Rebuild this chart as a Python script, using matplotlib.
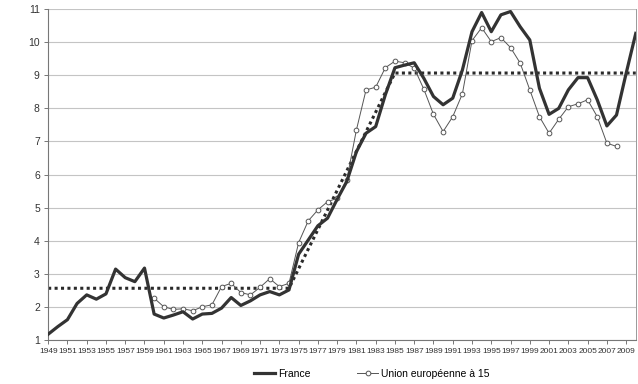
import numpy as np
from matplotlib import pyplot as plt

# years
years_fr = np.arange(1949, 2011)
years_eu = np.arange(1960, 2009)

france = [1.17, 1.4, 1.61, 2.1, 2.36, 2.23, 2.39, 3.14, 2.88, 2.76,
          3.17, 1.78, 1.66, 1.75, 1.85, 1.63, 1.78, 1.8, 1.96, 2.28,
          2.04, 2.18, 2.36, 2.46, 2.36, 2.51, 3.59, 4.02, 4.45, 4.68,
          5.25, 5.79, 6.69, 7.25, 7.45, 8.41, 9.23, 9.31, 9.38, 8.91,
          8.36, 8.11, 8.31, 9.16, 10.32, 10.9, 10.32, 10.83, 10.93, 10.47,
          10.07, 8.61, 7.82, 8.0, 8.56, 8.93, 8.93, 8.26, 7.47, 7.8,
          9.06, 10.27]

ue15 = [2.26, 2.0, 1.92, 1.94, 1.88, 2.0, 2.06, 2.61, 2.71, 2.43,
        2.36, 2.59, 2.85, 2.61, 2.71, 3.94, 4.6, 4.93, 5.18, 5.28,
        5.84, 7.35, 8.56, 8.64, 9.23, 9.43, 9.38, 9.22, 8.58, 7.82,
        7.3, 7.75, 8.44, 10.05, 10.44, 10.02, 10.14, 9.84, 9.37, 8.56,
        7.75, 7.25, 7.67, 8.05, 8.14, 8.26, 7.75, 6.95, 6.85]

# trend (dotted) : plateau - rise - plateau
trend_x = [1949, 1974, 1985, 2010]
trend_y = [2.56, 2.56, 9.07, 9.07]

fig = plt.figure(figsize=(6.38, 3.84), dpi=100)
ax = fig.add_axes([0.0755, 0.115, 0.921, 0.861])

ax.set_ylim(1, 11)
ax.set_xlim(1949, 2010)
ax.set_yticks(np.arange(1, 12))
ax.yaxis.grid(True, color="#c4c4c4", lw=0.8)
ax.set_axisbelow(True)

ax.plot(trend_x, trend_y, color="#2a2a2a", lw=2.2, ls=(0, (1, 1.1)),
        zorder=2)
ax.plot(years_eu, ue15, color="#555555", lw=0.7, marker="o", ms=3.4,
        mfc="white", mec="#555555", mew=0.7, zorder=3,
        label="Union européenne à 15")
ax.plot(years_fr, france, color="#333333", lw=2.3, zorder=4, label="France")

ax.set_xticks(np.arange(1949, 2011, 2))
ax.set_xticklabels([str(y) for y in range(1949, 2011, 2)],
                   fontsize=6, family="Liberation Sans", color="#333333")
for lab in ax.get_yticklabels():
    lab.set_fontsize(7.5)
    lab.set_family("Liberation Sans")
    lab.set_color("#333333")
ax.tick_params(axis="both", direction="out", length=3, width=0.7,
               color="#777777", pad=3)

ax.spines["top"].set_visible(False)
ax.spines["left"].set_color("#777777")
ax.spines["bottom"].set_color("#777777")
ax.spines["right"].set_color("#999999")
ax.spines["right"].set_linewidth(0.7)

h, l = ax.get_legend_handles_labels()
fig.legend(h[::-1], l[::-1], loc="center", bbox_to_anchor=(0.583, 0.027),
           ncol=2, frameon=False, handlelength=2.0, handletextpad=0.3,
           columnspacing=4.5, prop={"family": "Liberation Sans", "size": 7.5})

fig.savefig("out.png", dpi=100)
